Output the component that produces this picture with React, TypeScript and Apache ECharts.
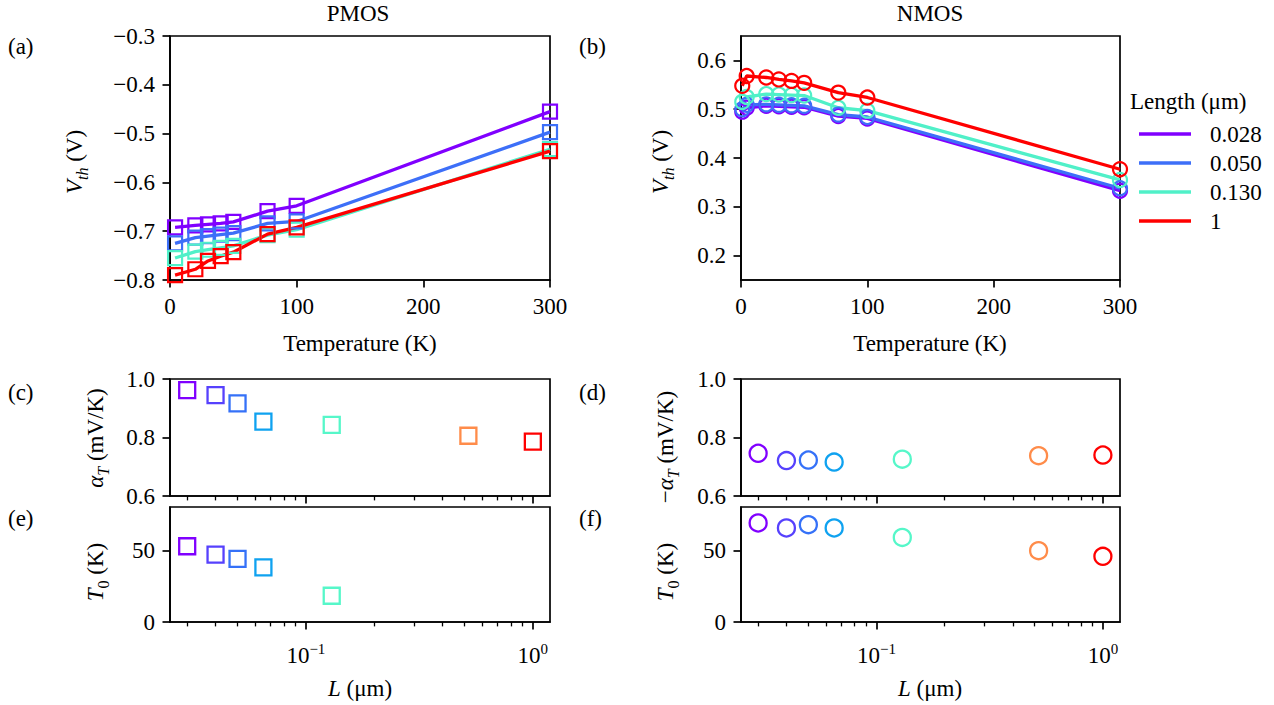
import React, { useEffect, useRef } from 'react';
import * as echarts from 'echarts';

// ---------- data ----------
const temps = [4, 20, 30, 40, 50, 77, 100, 300];
const nmosTemps = [1, 4.5, 20, 30, 40, 50, 77, 100, 300];
const lengthNames = ['0.028', '0.050', '0.130', '1'];
const lineColors = ['#8000ff', '#3d6ff8', '#50f0c8', '#ff0000'];

const pmosVth028 = [-0.692, -0.688, -0.686, -0.684, -0.681, -0.659, -0.648, -0.455];
const pmosVth050 = [-0.725, -0.713, -0.710, -0.707, -0.704, -0.684, -0.680, -0.497];
const pmosVth130 = [-0.755, -0.742, -0.738, -0.734, -0.730, -0.708, -0.697, -0.532];
const pmosVth1 = [-0.790, -0.778, -0.761, -0.751, -0.743, -0.706, -0.692, -0.536];

const nmosVth028 = [0.495, 0.503, 0.507, 0.506, 0.505, 0.504, 0.486, 0.481, 0.333];
const nmosVth050 = [0.500, 0.509, 0.510, 0.509, 0.508, 0.507, 0.489, 0.484, 0.338];
const nmosVth130 = [0.515, 0.525, 0.531, 0.530, 0.529, 0.528, 0.503, 0.497, 0.355];
const nmosVth1 = [0.548, 0.568, 0.565, 0.561, 0.558, 0.554, 0.534, 0.524, 0.377];

const lengths = [0.03, 0.04, 0.05, 0.065, 0.13, 0.52, 1.0];
const pointColors = ['#8000ff', '#5641fd', '#3571f8', '#0fa2f0', '#56f7c9', '#ff8c4a', '#ff0000'];
const pmosAlpha = [0.962, 0.945, 0.917, 0.854, 0.843, 0.806, 0.786];
const pmosT0 = [53.1, 47.2, 44.2, 38.3, 18.4, null, null];
const nmosAlpha = [0.746, 0.721, 0.723, 0.716, 0.726, 0.738, 0.740];
const nmosT0 = [69.4, 65.9, 68.2, 65.9, 59.3, 50.0, 46.0];

const tempTicks = [0, 100, 200, 300];
const pmosVthTicks = [-0.8, -0.7, -0.6, -0.5, -0.4, -0.3];
const nmosVthTicks = [0.2, 0.3, 0.4, 0.5, 0.6];
const alphaTicks = [0.6, 0.8, 1.0];
const t0Ticks = [0, 50];
const logMajorTicks = [0.1, 1];
const logMinorTicks = [0.03, 0.04, 0.05, 0.06, 0.07, 0.08, 0.09, 0.2, 0.3, 0.4, 0.5, 0.6, 0.7, 0.8, 0.9];

// ---------- style ----------
const FONT = 'Liberation Serif';
const FS = 23;
const BLACK = '#000';
const SPINE = 1.7;

const grids = [
  { left: 170, top: 36, width: 380, height: 244 },
  { left: 741, top: 36, width: 379, height: 244 },
  { left: 170, top: 379, width: 380, height: 117 },
  { left: 170, top: 507, width: 380, height: 115 },
  { left: 741, top: 379, width: 379, height: 117 },
  { left: 741, top: 507, width: 379, height: 115 },
].map((g) => ({
  ...g,
  show: true,
  borderColor: BLACK,
  borderWidth: SPINE,
  backgroundColor: 'transparent',
  containLabel: false,
  outerBoundsMode: 'none',
}));

const fmtSigned = (v: number) => {
  const s = Math.abs(v).toFixed(1);
  return v < -1e-9 ? '\u2212' + s : s;
};

const labelBase = { color: BLACK, fontFamily: FONT, fontSize: FS, margin: 15 };
const tickBase = { show: true, length: 7.5, lineStyle: { color: BLACK, width: SPINE } };

function linAxis(gridIndex: number, min: number, max: number, ticks: number[], fmt: (v: number) => string) {
  return {
    type: 'value',
    gridIndex,
    min,
    max,
    axisLine: { show: true, lineStyle: { color: BLACK, width: SPINE } },
    axisTick: { ...tickBase, customValues: ticks },
    axisLabel: { ...labelBase, customValues: ticks, formatter: fmt },
    splitLine: { show: false },
  };
}

const LOG_MIN = 0.0252;
const LOG_MAX = 1.19;

function logAxes(gridIndex: number, showLabels: boolean) {
  return [
    {
      type: 'log',
      logBase: 10,
      gridIndex,
      min: LOG_MIN,
      max: LOG_MAX,
      axisLine: { show: true, lineStyle: { color: BLACK, width: SPINE } },
      axisTick: { ...tickBase, customValues: logMajorTicks },
      axisLabel: showLabels
        ? {
            ...labelBase,
            margin: 19,
            customValues: logMajorTicks,
            formatter: (v: number) => (v < 0.5 ? '{b|10}{sup|\u22121}' : '{b|10}{sup|0}'),
            rich: {
              b: { fontFamily: FONT, fontSize: FS, lineHeight: 28, color: BLACK },
              sup: { fontFamily: FONT, fontSize: 15, verticalAlign: 'top', lineHeight: 15, color: BLACK },
            },
          }
        : { show: false },
      splitLine: { show: false },
    },
    {
      type: 'log',
      logBase: 10,
      gridIndex,
      position: 'bottom',
      min: LOG_MIN,
      max: LOG_MAX,
      axisLine: { show: false },
      axisTick: { show: true, length: 4.4, customValues: logMinorTicks, lineStyle: { color: BLACK, width: 1.3 } },
      axisLabel: { show: false },
      splitLine: { show: false },
    },
  ];
}

const xAxes = [
  linAxis(0, 0, 300, tempTicks, (v) => String(Math.round(v))),
  linAxis(1, 0, 300, tempTicks, (v) => String(Math.round(v))),
  ...logAxes(2, false),
  ...logAxes(3, true),
  ...logAxes(4, false),
  ...logAxes(5, true),
];
// x axis indices: grid0->0, grid1->1, grid2->2, grid3->4, grid4->6, grid5->8

const yAxes = [
  linAxis(0, -0.8, -0.3, pmosVthTicks, fmtSigned),
  linAxis(1, 0.15, 0.65, nmosVthTicks, (v) => v.toFixed(1)),
  linAxis(2, 0.6, 1.0, alphaTicks, (v) => v.toFixed(1)),
  linAxis(3, 0, 80.6, t0Ticks, (v) => String(Math.round(v))),
  linAxis(4, 0.6, 1.0, alphaTicks, (v) => v.toFixed(1)),
  linAxis(5, 0, 80.6, t0Ticks, (v) => String(Math.round(v))),
];

function vthSeries(xi: number, yi: number, ts: number[], rows: number[][], symbol: string) {
  const out: any[] = [];
  rows.forEach((row, i) => {
    const data = ts.map((t, j) => [t, row[j]]);
    out.push({
      type: 'line',
      name: lengthNames[i],
      xAxisIndex: xi,
      yAxisIndex: yi,
      data,
      symbol: 'none',
      color: lineColors[i],
      lineStyle: { width: 3.3, color: lineColors[i] },
      clip: true,
      silent: true,
      z: 2,
    });
    out.push({
      type: 'scatter',
      xAxisIndex: xi,
      yAxisIndex: yi,
      data,
      symbol,
      symbolSize: 14,
      itemStyle: { color: 'rgba(0,0,0,0)', borderColor: lineColors[i], borderWidth: 2.2, opacity: 1 },
      clip: true,
      silent: true,
      z: 2,
    });
  });
  return out;
}

function paramSeries(xi: number, yi: number, vals: (number | null)[], symbol: string) {
  const data: any[] = [];
  vals.forEach((v, i) => {
    if (v === null) return;
    data.push({ value: [lengths[i], v], itemStyle: { borderColor: pointColors[i] } });
  });
  return {
    type: 'scatter',
    xAxisIndex: xi,
    yAxisIndex: yi,
    data,
    symbol,
    symbolSize: symbol === 'rect' ? 16 : 17,
    itemStyle: { color: 'rgba(0,0,0,0)', borderWidth: 2.3, opacity: 1 },
    clip: false,
    silent: true,
    z: 3,
  };
}

const series = [
  ...vthSeries(0, 0, temps, [pmosVth028, pmosVth050, pmosVth130, pmosVth1], 'rect'),
  ...vthSeries(1, 1, nmosTemps, [nmosVth028, nmosVth050, nmosVth130, nmosVth1], 'circle'),
  paramSeries(2, 2, pmosAlpha, 'rect'),
  paramSeries(4, 3, pmosT0, 'rect'),
  paramSeries(6, 4, nmosAlpha, 'circle'),
  paramSeries(8, 5, nmosT0, 'circle'),
];

const richName = {
  i: { fontFamily: FONT, fontSize: FS, fontStyle: 'italic', lineHeight: 32 },
  s: { fontFamily: FONT, fontSize: 16, fontStyle: 'italic', verticalAlign: 'bottom', lineHeight: 16 },
  s0: { fontFamily: FONT, fontSize: 16, verticalAlign: 'bottom', lineHeight: 16 },
  n: { fontFamily: FONT, fontSize: FS, lineHeight: 32 },
};

function txt(x: number, y: number, text: string, opts: any = {}) {
  return {
    type: 'text',
    x,
    y,
    rotation: opts.rotate ? Math.PI / 2 : 0,
    silent: true,
    style: {
      text,
      rich: richName,
      fontFamily: FONT,
      fontSize: FS,
      fill: BLACK,
      align: opts.align || 'center',
      verticalAlign: 'middle',
    },
  };
}

const graphics = [
  txt(358, 13, 'PMOS'),
  txt(930, 13, 'NMOS'),
  txt(8, 46, '(a)', { align: 'left' }),
  txt(579, 46, '(b)', { align: 'left' }),
  txt(8, 392, '(c)', { align: 'left' }),
  txt(579, 392, '(d)', { align: 'left' }),
  txt(8, 518, '(e)', { align: 'left' }),
  txt(579, 518, '(f)', { align: 'left' }),
  txt(360, 343, '{n|Temperature (K)}'),
  txt(930, 343, '{n|Temperature (K)}'),
  txt(360, 688, '{i|L}{n| (\u03bcm)}'),
  txt(930, 688, '{i|L}{n| (\u03bcm)}'),
  txt(74, 162, '{i|V}{s|th}{n| (V)}', { rotate: true }),
  txt(660, 162, '{i|V}{s|th}{n| (V)}', { rotate: true }),
  txt(95, 438, '{i|\u03b1}{s|T}{n| (mV/K)}', { rotate: true }),
  txt(665, 447, '{n|\u2212}{i|\u03b1}{s|T}{n| (mV/K)}', { rotate: true }),
  txt(95, 572, '{i|T}{s0|0}{n| (K)}', { rotate: true }),
  txt(665, 572, '{i|T}{s0|0}{n| (K)}', { rotate: true }),
  txt(1130, 101, 'Length (\u03bcm)', { align: 'left' }),
];

const option: any = {
  animation: false,
  backgroundColor: '#fff',
  grid: grids,
  xAxis: xAxes,
  yAxis: yAxes,
  legend: {
    show: true,
    orient: 'vertical',
    left: 1134,
    top: 117,
    icon: 'rect',
    itemWidth: 52,
    itemHeight: 3.4,
    itemGap: 5,
    selectedMode: false,
    data: lengthNames,
    textStyle: { color: BLACK, fontFamily: FONT, fontSize: FS, lineHeight: 24, padding: [0, 0, 0, 14] },
  },
  series,
  graphic: graphics,
};

export default function App() {
  const ref = useRef<HTMLDivElement>(null);
  useEffect(() => {
    const chart = echarts.init(ref.current!, null, { renderer: 'svg' });
    chart.setOption(option);
    return () => chart.dispose();
  }, []);
  return (
    <div
      ref={ref}
      style={{ position: 'absolute', left: 0, top: 0, width: 1274, height: 705, background: '#fff' }}
    />
  );
}
